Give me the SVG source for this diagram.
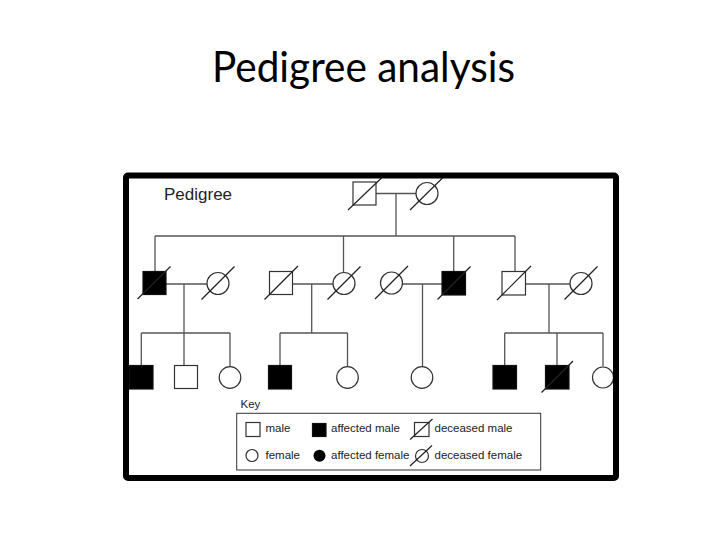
<svg xmlns="http://www.w3.org/2000/svg" width="728" height="546" viewBox="0 0 728 546">
<style>
.ln{stroke:#555;stroke-width:1.3;fill:none}
.sq{fill:#fff;stroke:#333;stroke-width:1.2}
.aff{fill:#000;stroke:#111;stroke-width:1.2}
.ci{fill:#fff;stroke:#333;stroke-width:1.2}
.sl{stroke:#222;stroke-width:1.2;fill:none}
.t{font-family:"Liberation Sans",Arial,sans-serif;fill:#222}
</style>
<rect x="0" y="0" width="728" height="546" fill="#fff"/>
<text x="212" y="81.5" font-family="Lato,'Open Sans',sans-serif" font-size="43" fill="#000" textLength="303" lengthAdjust="spacingAndGlyphs">Pedigree analysis</text>
<text class="t" x="164" y="200" font-size="17">Pedigree</text>

<g id="connectors">
<path class="ln" d="M376 193.5H416M396 193.5V236M155 236H515M155 236V271.5M343.5 236V272M453.7 236V271.5M515 236V271.5"/>
<path class="ln" d="M166 284H207M292.5 284H333M402.5 284H442M525.5 284H570"/>
<path class="ln" d="M184 284V365.5M311.7 284V333M422.5 284V366.5M549 284V333"/>
<path class="ln" d="M141.3 333H230M280 333H347.5M504.7 333H603"/>
<path class="ln" d="M141.3 333V365.5M230 333V366.5M280 333V365.5M347.5 333V366.5M504.7 333V365.5M557 333V365.5M603 333V366.5"/>
</g>

<g id="I1"><rect class="sq" x="353" y="182" width="23" height="23"/><line class="sl" x1="348" y1="210" x2="382" y2="177.5"/></g>
<g id="I2"><circle class="ci" cx="427" cy="193.5" r="11"/><line class="sl" x1="410" y1="210" x2="443" y2="177.5"/></g>

<g id="II1"><rect class="aff" x="143" y="271.5" width="23" height="23"/><line class="sl" x1="137.5" y1="299" x2="170.5" y2="266.5"/></g>
<g id="II2"><circle class="ci" cx="218" cy="283.5" r="11"/><line class="sl" x1="201.5" y1="299.5" x2="234.5" y2="266.5"/></g>
<g id="II3"><rect class="sq" x="269.5" y="271.5" width="23" height="23"/><line class="sl" x1="264.5" y1="299.5" x2="298" y2="266"/></g>
<g id="II4"><circle class="ci" cx="344" cy="283.5" r="11"/><line class="sl" x1="327.5" y1="299.5" x2="360.5" y2="266.5"/></g>
<g id="II5"><circle class="ci" cx="391.5" cy="283" r="11"/><line class="sl" x1="375" y1="299" x2="408" y2="266"/></g>
<g id="II6"><rect class="aff" x="442" y="271.5" width="23.5" height="23.5"/><line class="sl" x1="437.5" y1="299.5" x2="470.5" y2="266.5"/></g>
<g id="II7"><rect class="sq" x="502" y="271.5" width="23.5" height="23.5"/><line class="sl" x1="497" y1="300" x2="531" y2="266"/></g>
<g id="II8"><circle class="ci" cx="581" cy="283.5" r="11"/><line class="sl" x1="564.5" y1="299.5" x2="597.5" y2="266.5"/></g>

<g id="III1"><rect class="aff" x="129.5" y="365.5" width="23.5" height="23.5"/></g>
<g id="III2"><rect class="sq" x="174.5" y="365.5" width="23" height="23"/></g>
<g id="III3"><circle class="ci" cx="230" cy="377.5" r="10.8"/></g>
<g id="III4"><rect class="aff" x="268.5" y="365.5" width="23" height="23.5"/></g>
<g id="III5"><circle class="ci" cx="347.5" cy="377.5" r="10.8"/></g>
<g id="III6"><circle class="ci" cx="422" cy="377.5" r="10.8"/></g>
<g id="III7"><rect class="aff" x="493" y="365.5" width="23.5" height="23.5"/></g>
<g id="III8"><rect class="aff" x="545.5" y="365.5" width="23.5" height="23.5"/><line class="sl" x1="541.5" y1="392.5" x2="573" y2="361"/></g>
<g id="III9"><circle class="ci" cx="603" cy="377.5" r="10.5"/></g>

<g id="key">
<text class="t" x="240.5" y="407.5" font-size="11.5">Key</text>
<rect x="236.7" y="413.3" width="304" height="56.7" fill="none" stroke="#333" stroke-width="1"/>
<rect class="sq" x="246" y="422.5" width="14" height="14" stroke-width="1"/>
<text class="t" x="265.5" y="432" font-size="11.5">male</text>
<rect class="aff" x="312.5" y="423.5" width="13.5" height="13"/>
<text class="t" x="331" y="432" font-size="11.5">affected male</text>
<rect class="sq" x="414.5" y="422.5" width="14.5" height="14" stroke-width="1"/>
<line class="sl" x1="410" y1="439.5" x2="432.5" y2="419" stroke-width="1"/>
<text class="t" x="434.5" y="432" font-size="11.5">deceased male</text>
<circle class="ci" cx="252" cy="455.5" r="6" stroke-width="1"/>
<text class="t" x="265.5" y="459" font-size="11.5">female</text>
<circle cx="319.5" cy="455.8" r="6" fill="#000"/>
<text class="t" x="331" y="459" font-size="11.5">affected female</text>
<circle class="ci" cx="422" cy="456" r="6.5" stroke-width="1"/>
<line class="sl" x1="410" y1="466" x2="432" y2="445.5" stroke-width="1"/>
<text class="t" x="434.5" y="459" font-size="11.5">deceased female</text>
</g>

<rect x="126" y="175.5" width="490" height="302.5" rx="2" fill="none" stroke="#000" stroke-width="6"/>
</svg>
